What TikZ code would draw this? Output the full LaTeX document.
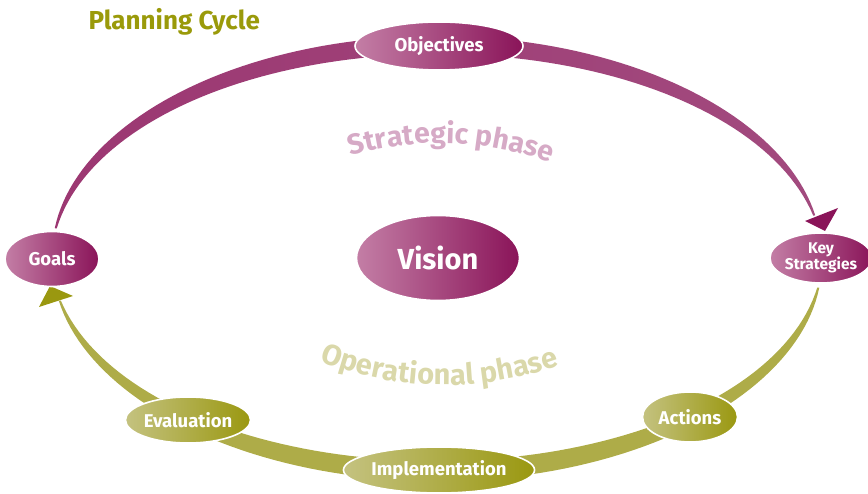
\documentclass[tikz,border=0pt]{standalone}
\usepackage{fontspec}
\setmainfont{Fira Sans}
\usetikzlibrary{shapes.geometric,decorations.text}

\definecolor{magdark}{HTML}{8A1459}
\definecolor{maglight}{HTML}{C784AA}
\definecolor{magmid}{HTML}{A24A7E}
\definecolor{olvdark}{HTML}{9A9810}
\definecolor{olvlight}{HTML}{C8C68A}
\definecolor{olvmid}{HTML}{AEAC48}
\definecolor{strtxt}{HTML}{D6AAC6}
\definecolor{optxt}{HTML}{DAD8AA}
\definecolor{titlecol}{HTML}{9A9A0A}

\newcommand\strfont{\fontsize{28.5}{28.5}\selectfont\bfseries\color{strtxt}}
\newcommand\opfont{\fontsize{29}{29}\selectfont\bfseries\color{optxt}}

\begin{document}
\begin{tikzpicture}[
  x=1pt, y=1pt,
  declare function={tw(\a)=1+8*sin((172-\a)/160.5*180); bw(\a)=1+9*sin((-8-\a)/160.4*180);},
  every node/.style={align=center},
  stepell/.style={ellipse, draw=white, line width=1.6pt, inner sep=0pt, text=white,
    font=\fontsize{18.5}{18.5}\selectfont\bfseries},
  magell/.style={stepell, left color=maglight!90!magmid, right color=magdark},
  olvell/.style={stepell, left color=olvlight!85!olvmid, right color=olvdark}
]
\useasboundingbox (0,0) rectangle (868,493);

% --- Strategic band (top)
\shade[left color=magdark!85!white, middle color=maglight, right color=magmid]
  plot[domain=172:11.5, samples=90, variable=\a]
    ({437+(385+tw(\a))*cos(\a)}, {235+(213+tw(\a))*sin(\a)})
  -- plot[domain=11.5:172, samples=90, variable=\a]
    ({437+(385-tw(\a))*cos(\a)}, {235+(213-tw(\a))*sin(\a)}) -- cycle;

% --- Operational band (bottom)
\shade[left color=olvmid, middle color=olvlight, right color=olvmid]
  plot[domain=-8:-168.4, samples=90, variable=\a]
    ({437+(385+bw(\a))*cos(\a)}, {235+(213+bw(\a))*sin(\a)})
  -- plot[domain=-168.4:-8, samples=90, variable=\a]
    ({437+(385-bw(\a))*cos(\a)}, {235+(213-bw(\a))*sin(\a)}) -- cycle;

% --- Arrow heads
\coordinate (topa) at (805,272);
\coordinate (topb) at (838,285);
\coordinate (toptip) at (825,262);
\fill[magdark] (topa) -- (topb) -- (toptip) -- cycle;
\coordinate (bota) at (39,186);
\coordinate (botb) at (73,197);
\coordinate (bottip) at (50,207);
\fill[olvdark] (bota) -- (botb) -- (bottip) -- cycle;

% --- Steps of the cycle
\node[magell, minimum width=168, minimum height=48] (obj) at (439,447) {Objectives};
\node[magell, minimum width=94, minimum height=55] (goals) at (52,234) {Goals};
\node[magell, minimum width=163, minimum height=85,
  font=\fontsize{29}{29}\selectfont\bfseries] (vision) at (438,235) {Vision};
\node[magell, minimum width=91, minimum height=50,
  font=\fontsize{15.5}{16.5}\selectfont\bfseries] (keys) at (821,235) {Key\\Strategies};
\node[olvell, minimum width=112, minimum height=46] (eval) at (188,73) {Evaluation};
\node[olvell, minimum width=168, minimum height=46] (impl) at (439,23) {Implementation};
\node[olvell, minimum width=95, minimum height=50] (act) at (690,76) {Actions};

% --- Title and phases
\node[anchor=base west, text=titlecol, font=\fontsize{26}{26}\selectfont\bfseries]
  (title) at (85,463) {Planning Cycle};
\path[decorate, decoration={text along path, text align=center,
  text={|\strfont|Strategic phase}}]
  (440,30) ++(112:320) arc[start angle=112, end angle=64, radius=320];
\path[decorate, decoration={text along path, text align=center,
  text={|\opfont|Operational phase}}]
  (445,448) ++(246:340) arc[start angle=246, end angle=292, radius=340];

\end{tikzpicture}
\end{document}
